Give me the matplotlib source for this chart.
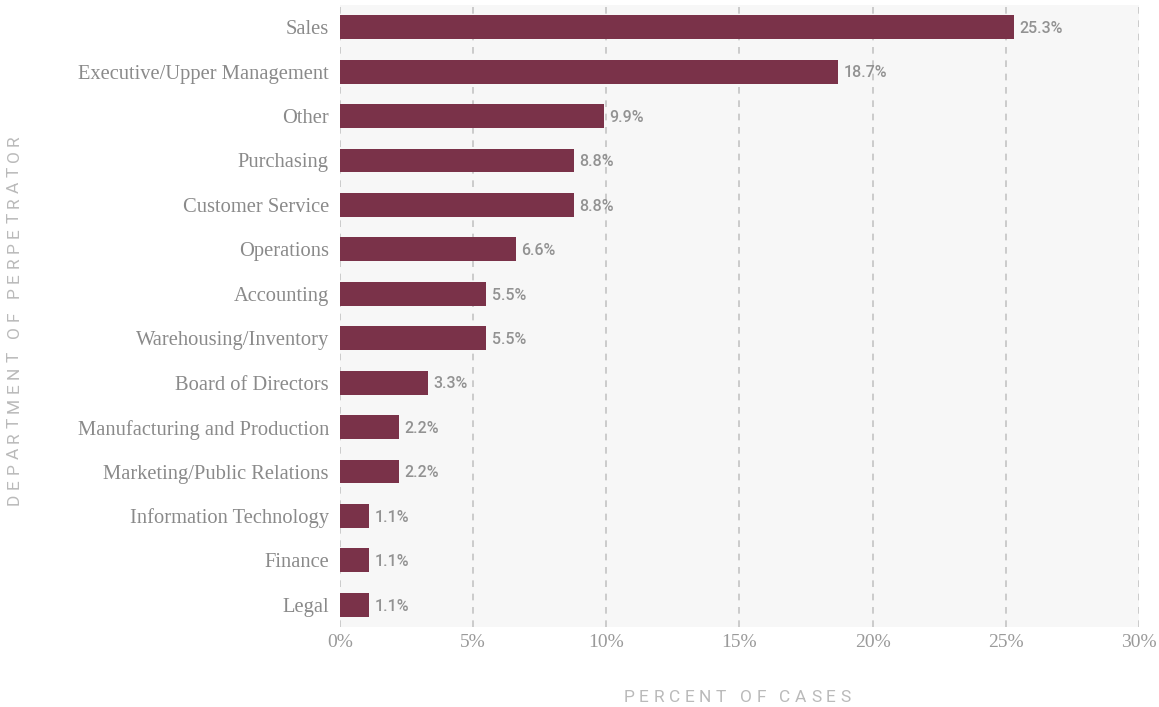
import matplotlib
matplotlib.use("Agg")
import matplotlib.pyplot as plt
import numpy as np

departments = [
    "Sales", "Executive/Upper Management", "Other", "Purchasing",
    "Customer Service", "Operations", "Accounting", "Warehousing/Inventory",
    "Board of Directors", "Manufacturing and Production",
    "Marketing/Public Relations", "Information Technology", "Finance", "Legal",
]
percent = [25.3, 18.7, 9.9, 8.8, 8.8, 6.6, 5.5, 5.5, 3.3, 2.2, 2.2, 1.1, 1.1, 1.1]
x_ticks = [0, 5, 10, 15, 20, 25, 30]

bar_color = "#7a3249"
grey_text = "#9a9a9a"
serif = ["Liberation Serif", "DejaVu Serif"]

fig = plt.figure(figsize=(11.59, 7.07), dpi=100)
ax = fig.add_axes([340 / 1159, 1 - 627 / 707, 799 / 1159, 622 / 707])
ax.set_facecolor("#f7f7f7")

y = np.arange(len(departments))
ax.barh(y, percent, height=0.54, color=bar_color, zorder=3)

for yi, v in zip(y, percent):
    ax.text(v + 0.2, yi + 0.03, f"{v}%", va="center", ha="left", fontsize=11.5,
            family="Roboto", weight="medium", color="#929292", zorder=4)

ax.set_xlim(0, 30)
ax.set_ylim(len(departments) - 0.5, -0.5)
ax.set_xticks(x_ticks)
ax.set_xticklabels([f"{t}%" for t in x_ticks], family=serif, fontsize=14, color=grey_text)
ax.set_yticks(y)
ax.set_yticklabels(departments, family=serif, fontsize=14.8, color="#8a8a8a")
ax.tick_params(length=0)
ax.tick_params(axis="y", pad=8)
ax.tick_params(axis="x", pad=5)

ax.grid(axis="x", color="#c4c4c4", linestyle=(0, (4, 4)), linewidth=1.2, zorder=1)
ax.grid(axis="y", visible=False)
for s in ax.spines.values():
    s.set_visible(False)


def spaced_text(x, y, s, rotation=0, gap=4.6, size=12.5):
    # draw a string one letter at a time so the letters can be spread out
    renderer = fig.canvas.get_renderer()
    widths = []
    for ch in s:
        t = fig.text(0, 0, ch, fontsize=size, family="Roboto")
        bb = t.get_window_extent(renderer)
        widths.append(bb.width if ch != " " else size * 0.35)
        t.remove()
    total = sum(widths) + gap * (len(s) - 1)
    W, H = fig.bbox.width, fig.bbox.height
    pos = -total / 2
    for ch, w in zip(s, widths):
        c = pos + w / 2
        if rotation == 0:
            fx, fy = x + c / W, y
        else:
            fx, fy = x, y + c / H
        fig.text(fx, fy, ch, fontsize=size, family="Roboto",
                 color="#bababa", ha="center", va="center", rotation=rotation)
        pos += w + gap


spaced_text(737 / 1159, 1 - 697 / 707, "PERCENT OF CASES")
spaced_text(14 / 1159, 1 - 320 / 707, "DEPARTMENT OF PERPETRATOR", rotation=90)

fig.savefig("out.png", dpi=100)
